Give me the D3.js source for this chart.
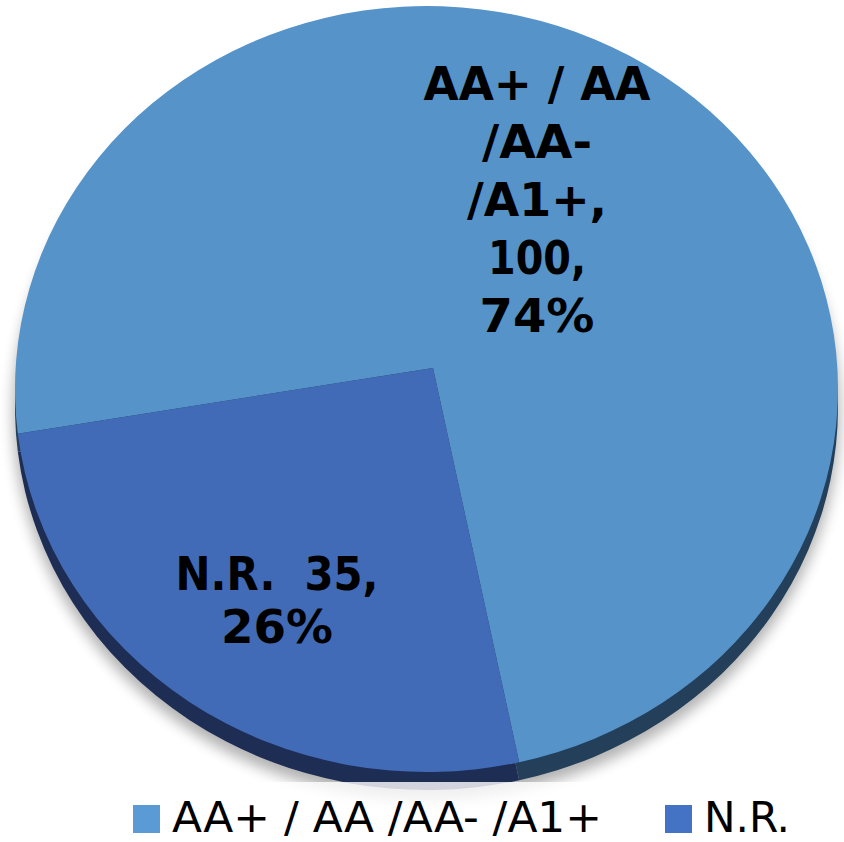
<!DOCTYPE html>
<html>
<head>
<meta charset="utf-8">
<script src="https://cdn.jsdelivr.net/npm/d3@7"></script>
<style>
  body { margin: 0; background: #fff; }
  svg { display: block; }
</style>
</head>
<body>
<svg width="844" height="842"></svg>
<script>
const width = 844, height = 842;

// data
const categories = ["AA+ / AA /AA- /A1+", "N.R."];
const values = [100, 35];
const percents = ["74%", "26%"];
const labelLines = [
  ["AA+ / AA", "/AA-", "/A1+,", "100,", "74%"],
  ["N.R.  35,", "26%"]
];

// layout of the tilted pie
const cx = 426.5, cy = 389, rx = 411.5, ry = 383;
const vx = 433, vy = 368;        // apex of the slices (perspective)
const depth = 18;
const faceColors = ["#5593c9", "#416bb7"];
const rimColors = ["#243f5a", "#1e2d54"];
const swatchColors = ["#5b9bd5", "#4472c4"];

const svg = d3.select("svg");

const defs = svg.append("defs");
defs.append("filter").attr("id", "blur")
  .attr("x", "-20%").attr("y", "-20%").attr("width", "140%").attr("height", "140%")
  .append("feGaussianBlur").attr("stdDeviation", 7);

const pie = d3.pie().sort(null)
  .startAngle(-99 * Math.PI / 180)
  .endAngle(-99 * Math.PI / 180 + 2 * Math.PI);
const arcs = pie(values);

// ray from apex to ellipse edge
function edge(a, ox, oy) {
  const dx = Math.sin(a), dy = -Math.cos(a);
  const px = ox - cx, py = oy - cy;
  const A = dx * dx / (rx * rx) + dy * dy / (ry * ry);
  const B = 2 * (px * dx / (rx * rx) + py * dy / (ry * ry));
  const C = px * px / (rx * rx) + py * py / (ry * ry) - 1;
  const t = (-B + Math.sqrt(B * B - 4 * A * C)) / (2 * A);
  return [ox + t * dx, oy + t * dy];
}

function slicePath(d, off) {
  const p0 = edge(d.startAngle, vx, vy);
  const p1 = edge(d.endAngle, vx, vy);
  let a0 = Math.atan2(p0[0] - cx, -(p0[1] - cy));
  let a1 = Math.atan2(p1[0] - cx, -(p1[1] - cy));
  let span = a1 - a0;
  while (span < 0) span += 2 * Math.PI;
  const large = span > Math.PI ? 1 : 0;
  return `M${vx},${vy + off}L${p0[0]},${p0[1] + off}` +
    `A${rx},${ry} 0 ${large} 1 ${p1[0]},${p1[1] + off}Z`;
}

// shadow
svg.append("ellipse")
  .attr("cx", cx).attr("cy", cy + depth + 6)
  .attr("rx", rx + 2).attr("ry", ry + 4)
  .attr("fill", "#000").attr("opacity", 0.3)
  .attr("filter", "url(#blur)");

// rim (side of the pie)
svg.append("g").selectAll("path")
  .data(arcs)
  .join("path")
  .attr("d", d => slicePath(d, depth))
  .attr("fill", (d, i) => rimColors[i]);

// top face
svg.append("g").selectAll("path")
  .data(arcs)
  .join("path")
  .attr("d", d => slicePath(d, 0))
  .attr("fill", (d, i) => faceColors[i]);

// data labels
const labelPos = [[537, 100], [277, 590]];
const lineGap = [58, 53];
const lineW = [[227, 110, 140, 98, 115], [203, 112]];
labelLines.forEach((lines, i) => {
  const g = svg.append("g")
    .attr("font-family", "'DejaVu Sans', Verdana, sans-serif")
    .attr("font-weight", "bold")
    .attr("font-size", 46)
    .attr("fill", "#000");
  lines.forEach((s, j) => {
    g.append("text")
      .attr("x", labelPos[i][0] - lineW[i][j] / 2)
      .attr("y", labelPos[i][1] + j * lineGap[i])
      .attr("textLength", lineW[i][j])
      .attr("lengthAdjust", "spacingAndGlyphs")
      .style("white-space", "pre")
      .text(s);
  });
});

// legend band
svg.append("rect")
  .attr("x", 0).attr("y", 782)
  .attr("width", width).attr("height", height - 782)
  .attr("fill", "#fff").attr("opacity", 0.8);

const legendX = [133, 665];
const legendW = [430, 86];
const legend = svg.append("g").selectAll("g")
  .data(categories)
  .join("g");

legend.append("rect")
  .attr("x", (d, i) => legendX[i]).attr("y", 805)
  .attr("width", 27).attr("height", 28)
  .attr("fill", (d, i) => swatchColors[i]);

legend.append("text")
  .attr("x", (d, i) => legendX[i] + 39)
  .attr("y", 832)
  .attr("font-family", "'DejaVu Sans Condensed', 'Liberation Sans Narrow', sans-serif")
  .attr("font-size", 42)
  .attr("textLength", (d, i) => legendW[i])
  .attr("lengthAdjust", "spacingAndGlyphs")
  .attr("fill", "#000")
  .text(d => d);
</script>
</body>
</html>
